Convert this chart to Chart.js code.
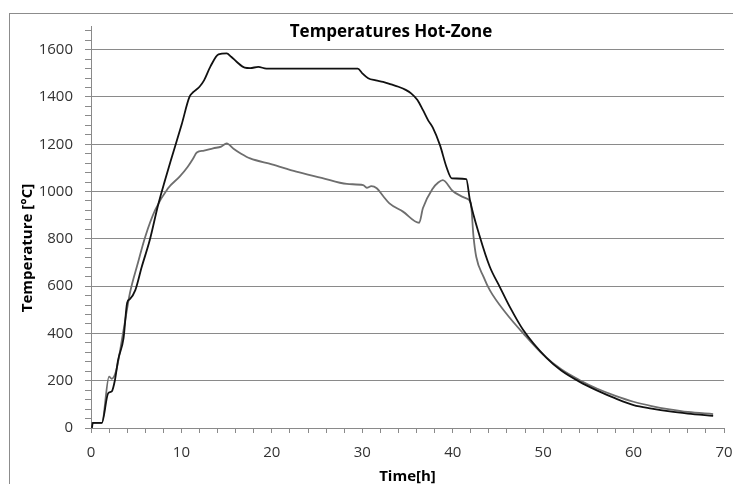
<!DOCTYPE html>
<html>
<head>
<meta charset="utf-8">
<script src="https://cdn.jsdelivr.net/npm/chart.js@4/dist/chart.umd.min.js"></script>
<style>
  html, body { margin: 0; padding: 0; background: #fff; }
</style>
</head>
<body>
<canvas id="hotzone-chart" width="733" height="484"></canvas>
<script>
// black curve (upper)
const blackTime = [0.1, 0.2, 1.2, 1.9, 2.3, 2.65, 3.0, 3.6, 4.0, 4.3, 4.9, 5.6, 6.5, 7.4, 8.2, 8.8, 10.0, 10.9,
  11.3, 12.0, 12.5, 13.2, 14.1, 15.0, 15.5, 16.1, 17.0, 17.6, 18.5, 19.4, 25.0, 29.5, 30.0, 30.65, 31.5, 32.3,
  33.2, 34.0, 34.8, 35.4, 36.1, 36.7, 37.3, 37.8, 38.6, 39.3, 39.9, 41.5, 41.9, 43.0, 44.1, 45.2, 46.3, 47.8,
  50.4, 52, 54, 56, 58, 60, 62, 64, 66, 68.8];
const blackTemp = [0, 22, 22, 147, 155, 203, 288, 380, 530, 545, 583, 680, 795, 940, 1050, 1128, 1280, 1401,
  1420, 1443, 1470, 1528, 1580, 1584, 1570, 1549, 1524, 1522, 1527, 1520, 1520, 1520, 1500, 1479, 1470, 1464,
  1453, 1443, 1430, 1415, 1387, 1345, 1300, 1270, 1195, 1105, 1056, 1052, 964, 809, 682, 597, 513, 414,
  295, 243, 196, 158, 125, 97, 82, 70, 61, 51];

// gray curve (lower)
const grayTime = [0, 1.2, 2.0, 2.3, 2.8, 3.6, 4.3, 5.2, 6.0, 7.1, 8.5, 9.8, 10.7, 11.3, 11.7, 12.5, 13.5, 14.4,
  15.0, 15.8, 16.6, 17.6, 20, 22.7, 25.5, 28.3, 30.1, 30.5, 31.0, 31.6, 32.3, 33.0, 34.5, 36.3, 36.7, 37.8,
  38.4, 38.9, 40.0, 41.5, 42.0, 42.3, 42.6, 43.4, 44.1, 45.9, 47.8, 50, 52, 54, 56, 58, 60, 62, 64, 66, 68.8];
const grayTemp = [22, 22, 217, 208, 245, 414, 570, 700, 809, 922, 1013, 1063, 1105, 1140, 1165, 1173, 1183, 1190,
  1204, 1180, 1160, 1140, 1115, 1084, 1058, 1032, 1027, 1016, 1023, 1014, 981, 950, 915, 868, 929, 1013,
  1038, 1048, 1002, 971, 950, 809, 724, 640, 583, 485, 400, 310, 248, 203, 166, 136, 111, 93, 79, 68, 59];

const xLabels = [0, 10, 20, 30, 40, 50, 60, 70];
const yLabels = [0, 200, 400, 600, 800, 1000, 1200, 1400, 1600];

const gridGray = '#8a8a8a';
Chart.defaults.font.family = "'Open Sans', sans-serif";

const toPoints = (xs, ys) => xs.map((x, i) => ({ x: x, y: ys[i] }));

// frame, title and axis titles
const decorations = {
  id: 'decorations',
  beforeDraw(chart) {
    const c = chart.ctx;
    c.save();
    c.strokeStyle = '#8c8c8c';
    c.lineWidth = 1;
    c.strokeRect(9.5, 13.5, 1000, 1000);
    c.restore();
  },
  afterDraw(chart) {
    const c = chart.ctx;
    c.save();
    c.fillStyle = '#000';
    c.textAlign = 'center';
    c.textBaseline = 'alphabetic';
    c.font = "bold 17px 'Open Sans'";
    c.fillText('Temperatures Hot-Zone', 391, 37);
    c.font = "bold 15px 'Open Sans'";
    c.fillText('Time[h]', 407.5, 481);
    c.translate(32, 248);
    c.rotate(-Math.PI / 2);
    c.fillText('Temperature [°C]', 0, 0);
    c.restore();
  }
};

let ctx = document.getElementById('hotzone-chart').getContext('2d');
let hotZoneChart = new Chart(ctx, {
  type: 'line',
  data: {
    datasets: [{
      label: 'black',
      data: toPoints(blackTime, blackTemp),
      borderColor: '#111',
      borderWidth: 1.8,
      pointRadius: 0,
      cubicInterpolationMode: 'monotone',
      fill: false
    }, {
      label: 'gray',
      data: toPoints(grayTime, grayTemp),
      borderColor: '#6e6e6e',
      borderWidth: 1.8,
      pointRadius: 0,
      cubicInterpolationMode: 'monotone',
      fill: false
    }]
  },
  options: {
    responsive: false,
    animation: false,
    layout: { padding: { top: 26, right: 9, left: 0, bottom: 0 } },
    plugins: {
      legend: { display: false },
      tooltip: { enabled: false }
    },
    scales: {
      x: {
        type: 'linear',
        min: 0,
        max: 70,
        afterFit: (scale) => {
          scale.height = 56;
          scale.paddingLeft = 0;
          scale.paddingRight = 0;
        },
        border: { color: gridGray, width: 1 },
        grid: { drawOnChartArea: false, drawTicks: true, tickLength: 5, tickColor: gridGray },
        ticks: {
          stepSize: 2,
          autoSkip: false,
          maxRotation: 0,
          padding: 11,
          color: '#333',
          font: { size: 15 },
          callback: (v) => xLabels.includes(v) ? v : ''
        }
      },
      y: {
        min: 0,
        max: 1700,
        afterFit: (scale) => { scale.width = 91; },
        border: { color: gridGray, width: 1 },
        grid: {
          color: (c) => (c.tick && yLabels.includes(c.tick.value)) ? gridGray : 'rgba(0,0,0,0)',
          drawTicks: true,
          tickLength: 6,
          tickColor: gridGray
        },
        ticks: {
          stepSize: 40,
          includeBounds: false,
          autoSkip: false,
          padding: 12,
          color: '#333',
          font: { size: 15 },
          callback: (v) => yLabels.includes(v) ? v : ''
        }
      }
    }
  },
  plugins: [decorations]
});
</script>
</body>
</html>
